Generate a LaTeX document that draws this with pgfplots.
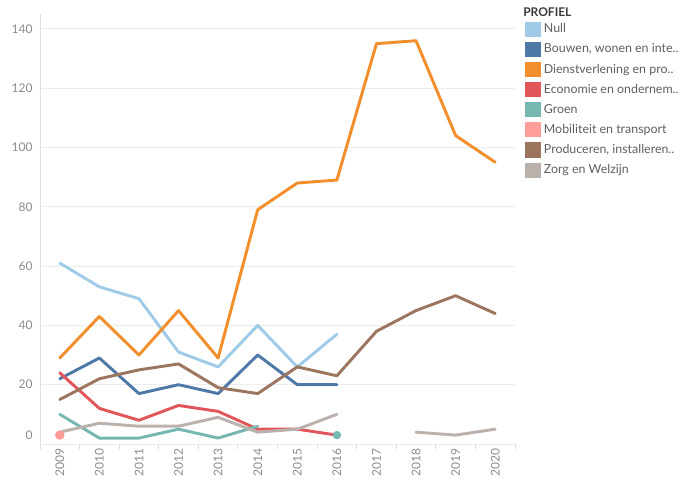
\documentclass[border=0pt]{standalone}
\usepackage{pgfplots}
\pgfplotsset{compat=1.18}
\usepackage{fontspec}
\setmainfont{Lato}
\definecolor{cNull}{HTML}{A0CBE8}
\definecolor{cBouwen}{HTML}{4E79A7}
\definecolor{cDienst}{HTML}{F28E2B}
\definecolor{cEcon}{HTML}{E15759}
\definecolor{cGroen}{HTML}{76B7B2}
\definecolor{cMobi}{HTML}{FF9D9A}
\definecolor{cProd}{HTML}{9C755F}
\definecolor{cZorg}{HTML}{BAB0AC}
\definecolor{tickgray}{HTML}{8C8C8C}
\definecolor{leggray}{HTML}{5F5F5F}
\definecolor{titlegray}{HTML}{3A3A3A}
\begin{document}
\begin{tikzpicture}
\path[use as bounding box] (-30pt,-28.5pt) rectangle (492pt,333pt);
\begin{axis}[
  at={(0,0)}, anchor=south west,
  scale only axis, width=356.25pt, height=322.5pt,
  xmin=2008.5, xmax=2020.5, ymin=0, ymax=145,
  clip=false,
  axis x line*=bottom, axis y line*=left,
  axis line style={draw=black!12, line width=0.6pt},
  ytick={20,40,...,140},
  extra y ticks={0},
  extra y tick style={yticklabel style={yshift=6.75pt}, grid=major},
  ymajorgrids,
  grid style={draw=black!7, line width=0.6pt},
  major tick length=0pt,
  xtick={2009,2010,...,2020},
  minor xtick={2008.5,2009.5,...,2020.5},
  minor tick length=4pt,
  tick align=outside,
  minor tick style={draw=black!15, line width=0.6pt},
  /pgf/number format/1000 sep={},
  /pgf/number format/assume math mode=true,
  xticklabel style={rotate=90, anchor=east, font=\fontsize{9}{10}\selectfont, text=tickgray},
  yticklabel style={font=\fontsize{9}{10}\selectfont, text=tickgray, xshift=-2pt},
  unbounded coords=jump,
  every axis plot/.append style={line width=2.2pt, line join=round, line cap=round},
  legend cell align=left,
  legend image code/.code={\fill[#1, draw=none] (0pt,-5.7pt) rectangle (11.5pt,5.7pt);},
  legend style={at={(rel axis cs:1.021,0.983)}, anchor=north west, draw=none, fill=none,
    font=\fontsize{9.3}{10}\selectfont, text=leggray, row sep=3.7pt, inner sep=0pt,
    nodes={inner sep=0pt, anchor=west},
    /tikz/every odd column/.append style={column sep=2.5pt}},
]
\addplot[cNull, mark=none] coordinates {(2009,61)(2010,53)(2011,49)(2012,31)(2013,26)(2014,40)(2015,26)(2016,37)};
\addlegendentry{Null}
\addplot[cBouwen, mark=none] coordinates {(2009,22)(2010,29)(2011,17)(2012,20)(2013,17)(2014,30)(2015,20)(2016,20)};
\addlegendentry{Bouwen, wonen en inte..}
\addplot[cDienst, mark=none] coordinates {(2009,29)(2010,43)(2011,30)(2012,45)(2013,29)(2014,79)(2015,88)(2016,89)(2017,135)(2018,136)(2019,104)(2020,95)};
\addlegendentry{Dienstverlening en pro..}
\addplot[cEcon, mark=none] coordinates {(2009,24)(2010,12)(2011,8)(2012,13)(2013,11)(2014,5)(2015,5)(2016,3)};
\addlegendentry{Economie en ondernem..}
\addplot[cGroen, mark=none] coordinates {(2009,10)(2010,2)(2011,2)(2012,5)(2013,2)(2014,6)(2015,nan)(2016,3)};
\addlegendentry{Groen}
\addplot[cMobi, only marks, mark=*, mark size=2.4pt, mark options={draw=none, fill=cMobi}] coordinates {(2009,3)};
\addlegendentry{Mobiliteit en transport}
\addplot[cProd, mark=none] coordinates {(2009,15)(2010,22)(2011,25)(2012,27)(2013,19)(2014,17)(2015,26)(2016,23)(2017,38)(2018,45)(2019,50)(2020,44)};
\addlegendentry{Produceren, installeren..}
\addplot[cZorg, mark=none] coordinates {(2009,4)(2010,7)(2011,6)(2012,6)(2013,9)(2014,4)(2015,5)(2016,10)(2017,nan)(2018,4)(2019,3)(2020,5)};
\addlegendentry{Zorg en Welzijn}
\addplot[cGroen, only marks, mark=*, mark size=2pt, mark options={draw=none, fill=cGroen}, forget plot] coordinates {(2016,3)};
\node[anchor=base west, font=\fontsize{9}{10}\selectfont\bfseries, text=titlegray, inner sep=0pt] at (rel axis cs:1.0168,0.995) {PROFIEL};
\end{axis}
\end{tikzpicture}
\end{document}
